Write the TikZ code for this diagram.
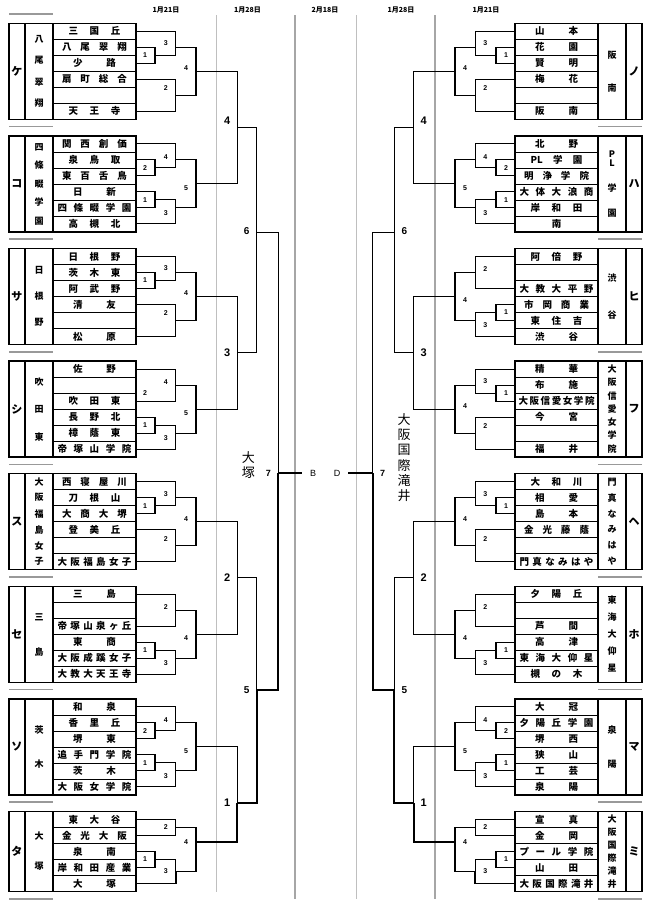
\documentclass[tikz,border=0pt]{standalone}
\usepackage{fontspec}
\setmainfont{Noto Sans CJK JP}
\newfontfamily\lat{Liberation Sans}
\usetikzlibrary{calc}

\ExplSyntaxOn
\tl_new:N \l_spr_tl
\seq_new:N \l_spr_seq
\NewDocumentCommand \spr { m }
 {
  \tl_set:No \l_spr_tl {#1}
  \seq_clear:N \l_spr_seq
  \tl_map_inline:Nn \l_spr_tl { \seq_put_right:Nn \l_spr_seq {##1} }
  \int_case:nnF { \seq_count:N \l_spr_seq }
   {
    {2} { \makebox[43pt][s]{ \seq_use:Nn \l_spr_seq { \hfil } } }
    {3} { \makebox[52pt][s]{ \seq_use:Nn \l_spr_seq { \hfil } } }
    {4} { \makebox[65pt][s]{ \seq_use:Nn \l_spr_seq { \hfil } } }
    {5} { \makebox[74pt][s]{ \seq_use:Nn \l_spr_seq { \hfil } } }
    {6} { \makebox[74pt][s]{ \seq_use:Nn \l_spr_seq { \hfil } } }
    {7} { \makebox[76pt][s]{ \seq_use:Nn \l_spr_seq { \hfil } } }
   }
   { \seq_use:Nn \l_spr_seq { } }
 }
\ExplSyntaxOff

\newcommand\R[1]{\bt+16*(#1-0.5)}
% match: A, B, column x, output y, name, label, label dy, winner, label style
\newcommand\mt[9]{%
  \coordinate (#5) at (#3,{#4});
  \draw[sa#8] (#1) -- (#1 -| #5) -- (#5);
  \draw[sb#8] (#2) -- (#2 -| #5) -- (#5);
  \node[#9] at ($(#5)+(-10,#7)$) {#6};
}
% block: prefix, k, rows, letter, region chars, region step, names
\newcommand\blk[7]{%
  \pgfmathsetmacro\bt{23.3+112.6*#2}%
  \pgfmathsetmacro\bc{\bt+8*#3}%
  \pgfmathsetmacro\bb{\bt+16*#3}%
  \foreach \nm [count=\i] in {#7}{\node[namecell] (#1#2r\i) at (94.5,{\bt+16*(\i-0.5)}) {\spr{\nm}};}
  \draw[outer] (9,\bt) rectangle (136,\bb);
  \draw[outer] (25,\bt) -- (25,\bb) (53,\bt) -- (53,\bb);
  \node[letter] (#1#2let) at (17,\bc) {#4};
  \foreach \ch [count=\j] in {#5}{\xdef\nreg{\j}}
  \foreach \ch [count=\j] in {#5}{\node[regch] at (39,{\bc+#6*(\j-(\nreg+1)/2)}) {\ch};}
}
\newcommand\tA[6]{%
  \pgfmathsetmacro\bt{23.3+112.6*#2}%
  \mt{#1#2r2.\sd}{#1#2r3.\sd}{155}{\R{2.5}}{#1#2m1}{1}{0}{#3}{lbl}%
  \mt{#1#2r1.\sd}{#1#2m1}{175.7}{\R{2}}{#1#2m2}{3}{-4}{#4}{lbl}%
  \mt{#1#2r4.\sd}{#1#2r6.\sd}{175.7}{\R{5}}{#1#2m3}{2}{-7}{#5}{lbl}%
  \mt{#1#2m2}{#1#2m3}{196}{\R{3.5}}{#1#2out}{4}{-3}{#6}{lbl}%
}
\newcommand\tB[7]{%
  \pgfmathsetmacro\bt{23.3+112.6*#2}%
  \mt{#1#2r2.\sd}{#1#2r3.\sd}{155}{\R{2.5}}{#1#2m1}{2}{0}{#3}{lbl}%
  \mt{#1#2r1.\sd}{#1#2m1}{175.7}{\R{2}}{#1#2m2}{4}{-3}{#4}{lbl}%
  \mt{#1#2r4.\sd}{#1#2r5.\sd}{155}{\R{4.5}}{#1#2m3}{1}{0}{#5}{lbl}%
  \mt{#1#2m3}{#1#2r6.\sd}{175.7}{\R{5}}{#1#2m4}{3}{5}{#6}{lbl}%
  \mt{#1#2m2}{#1#2m4}{196}{\R{3.5}}{#1#2out}{5}{4}{#7}{lbl}%
}
\newcommand\tC[8]{%
  \pgfmathsetmacro\bt{23.3+112.6*#2}%
  \mt{#1#2r1.\sd}{#1#2r3.\sd}{175.7}{\R{2}}{#1#2m1}{#3}{-3}{#5}{lbl}%
  \mt{#1#2r4.\sd}{#1#2r5.\sd}{155}{\R{4.5}}{#1#2m2}{1}{0}{#6}{lbl}%
  \mt{#1#2m2}{#1#2r6.\sd}{175.7}{\R{5}}{#1#2m3}{3}{5}{#7}{lbl}%
  \mt{#1#2m1}{#1#2m3}{196}{\R{3.5}}{#1#2out}{#4}{4}{#8}{lbl}%
}
\newcommand\tD[6]{%
  \pgfmathsetmacro\bt{23.3+112.6*#2}%
  \mt{#1#2r1.\sd}{#1#2r2.\sd}{175.7}{\R{1.5}}{#1#2m1}{2}{0}{#3}{lbl}%
  \mt{#1#2r3.\sd}{#1#2r4.\sd}{155}{\R{3.5}}{#1#2m2}{1}{0}{#4}{lbl}%
  \mt{#1#2m2}{#1#2r5.\sd}{175.7}{\R{4.25}}{#1#2m3}{3}{0}{#5}{lbl}%
  \mt{#1#2m1}{#1#2m3}{196}{841.7}{#1#2out}{4}{0}{#6}{lbl}%
}
\newcommand\rtwo[8]{%
  \mt{#10out}{#11out}{237.3}{127.7}{#1s4}{4}{-7}{#2}{lblb}%
  \mt{#12out}{#13out}{237.3}{352.7}{#1s3}{3}{0}{#3}{lblb}%
  \mt{#14out}{#15out}{237.3}{577.7}{#1s2}{2}{0}{#4}{lblb}%
  \mt{#16out}{#17out}{237.3}{802.7}{#1s1}{1}{0}{#5}{lblb}%
  \mt{#1s4}{#1s3}{256.7}{232.5}{#1t6}{6}{-1}{#6}{lblc}%
  \mt{#1s2}{#1s1}{256.7}{690}{#1t5}{5}{0}{#7}{lblc}%
  \mt{#1t6}{#1t5}{278.3}{473}{#1fin}{7}{0}{#8}{lbld}%
}

\begin{document}
\begin{tikzpicture}[x=1pt,y=-1pt,
  namecell/.style={draw=black, line width=0.8pt, minimum width=83pt, minimum height=16pt, inner sep=0pt, font=\fontsize{9.5}{9.5}\selectfont\bfseries},
  outer/.style={draw=black, line width=1.3pt},
  letter/.style={font=\fontsize{11}{11}\selectfont\bfseries, inner sep=0pt},
  regch/.style={font=\fontsize{9}{9}\selectfont\bfseries, inner sep=0pt},
  br/.style={line width=1.1pt, line join=miter},
  brw/.style={line width=1.9pt, line join=miter},
  saa/.style={brw}, sab/.style={br}, san/.style={br},
  sba/.style={br}, sbb/.style={brw}, sbn/.style={br},
  lbl/.style={font=\lat\bfseries\fontsize{7}{7}\selectfont, inner sep=0pt},
  lblb/.style={font=\lat\bfseries\fontsize{11}{11}\selectfont, inner sep=0pt},
  lblc/.style={font=\lat\bfseries\fontsize{10}{10}\selectfont, inner sep=0pt},
  lbld/.style={font=\lat\bfseries\fontsize{9}{9}\selectfont, inner sep=0pt},
  hdr/.style={font=\bfseries\fontsize{7}{7}\selectfont, inner sep=0pt},
  bd/.style={font=\lat\fontsize{9}{9}\selectfont, inner xsep=8pt, inner ysep=0pt},
  big/.style={font=\fontsize{13}{13}\selectfont, inner sep=0pt},
  sep/.style={line width=1.5pt, draw=gray!80},
  glight/.style={line width=0.8pt, draw=gray!50},
  gdark/.style={line width=1.4pt, draw=gray!70}
]
\fill[white] (0,0) rectangle (650,906);
\useasboundingbox (0,0) rectangle (650,906);

% date zone lines
\draw[glight] (216.7,15) -- (216.7,892);
\draw[gdark] (295,15) -- (295,899);
\draw[glight] (356.7,15) -- (356.7,899);
\draw[gdark] (435,15) -- (435,899);

% headers
\node[hdr] (h1) at (166,9.5) {1月21日};
\node[hdr] (h2) at (247.5,9.5) {1月28日};
\node[hdr] (h3) at (325,9.5) {2月18日};
\node[hdr] (h4) at (401,9.5) {1月28日};
\node[hdr] (h5) at (486,9.5) {1月21日};

% ---------------- left side
\begin{scope}
\def\sd{east}
\foreach \k in {0,...,7}{\draw[sep] (9,{23.3+112.6*\k-9.3}) -- (53,{23.3+112.6*\k-9.3});}
\draw[sep] (9,899) -- (53,899);
\blk{L}{0}{6}{ケ}{八,尾,翠,翔}{21.3}{三国丘,八尾翠翔,少路,扇町総合,{},天王寺}
\tA{L}{0}{n}{n}{n}{n}
\blk{L}{1}{6}{コ}{四,條,畷,学,園}{18.5}{関西創価,泉鳥取,東百舌鳥,日新,四條畷学園,高槻北}
\tB{L}{1}{n}{n}{n}{n}{n}
\blk{L}{2}{6}{サ}{日,根,野}{26}{日根野,茨木東,阿武野,清友,{},松原}
\tA{L}{2}{n}{n}{n}{n}
\blk{L}{3}{6}{シ}{吹,田,東}{27.5}{佐野,{},吹田東,長野北,樟蔭東,帝塚山学院}
\tC{L}{3}{4}{5}{n}{n}{n}{n}
\node[lbl] (L3x) at (145,{\R{2.5}}) {2};
\blk{L}{4}{6}{ス}{大,阪,福,島,女,子}{16}{西寝屋川,刀根山,大商大堺,登美丘,{},大阪福島女子}
\tA{L}{4}{n}{n}{n}{n}
\blk{L}{5}{6}{セ}{三,島}{35}{三島,{},帝塚山泉ヶ丘,東商,大阪成蹊女子,大教大天王寺}
\tC{L}{5}{2}{4}{n}{n}{n}{n}
\blk{L}{6}{6}{ソ}{茨,木}{34}{和泉,香里丘,堺東,追手門学院,茨木,大阪女学院}
\tB{L}{6}{n}{n}{n}{n}{n}
\blk{L}{7}{5}{タ}{大,塚}{30}{東大谷,金光大阪,泉南,岸和田産業,大塚}
\tD{L}{7}{n}{n}{b}{b}
\rtwo{L}{n}{n}{n}{b}{n}{b}{b}
\end{scope}

% ---------------- right side (mirrored)
\begin{scope}[xshift=651pt, xscale=-1]
\def\sd{west}
\foreach \k in {1,...,7}{\draw[sep] (9,{23.3+112.6*\k-9.3}) -- (53,{23.3+112.6*\k-9.3});}
\draw[sep] (9,899) -- (53,899);
\blk{R}{0}{6}{ノ}{阪,南}{33}{山本,花園,賢明,梅花,{},阪南}
\tA{R}{0}{n}{n}{n}{n}
\blk{R}{1}{6}{ハ}{}{0}{北野,{{PL}学園},明浄学院,大体大浪商,岸和田,南}
\node[regch] at (39,154) {P};
\node[regch] at (39,163) {L};
\node[regch] at (39,188) {学};
\node[regch] at (39,213.3) {園};
\tB{R}{1}{n}{n}{n}{n}{n}
\blk{R}{2}{6}{ヒ}{渋,谷}{37}{阿倍野,{},大教大平野,市岡商業,東住吉,渋谷}
\tC{R}{2}{2}{4}{n}{n}{n}{n}
\blk{R}{3}{6}{フ}{大,阪,信,愛,女,学,院}{13.2}{精華,布施,大阪信愛女学院,今宮,{},福井}
\tA{R}{3}{n}{n}{n}{n}
\blk{R}{4}{6}{ヘ}{門,真,な,み,は,や}{15.7}{大和川,相愛,島本,金光藤蔭,{},門真なみはや}
\tA{R}{4}{n}{n}{n}{n}
\blk{R}{5}{6}{ホ}{東,海,大,仰,星}{16.9}{夕陽丘,{},芦間,高津,東海大仰星,槻の木}
\tC{R}{5}{2}{4}{n}{n}{n}{n}
\blk{R}{6}{6}{マ}{泉,陽}{34}{大冠,夕陽丘学園,堺西,狭山,工芸,泉陽}
\tB{R}{6}{n}{n}{n}{n}{n}
\blk{R}{7}{5}{ミ}{大,阪,国,際,滝,井}{13}{宣真,金岡,プール学院,山田,大阪国際滝井}
\tD{R}{7}{n}{n}{b}{b}
\rtwo{R}{n}{n}{n}{b}{n}{b}{b}
\end{scope}

% final
\node[bd] (B) at (313,473) {B};
\node[bd] (D) at (337,473) {D};
\draw[br] (Lfin) -- (B);
\draw[br] (Rfin) -- (D);

\node[big] (w1) at (248.3,457.5) {大};
\node[big] (w2) at (248.3,472.7) {塚};
\foreach \c [count=\i] in {大,阪,国,際,滝,井}{\node[big] (e\i) at (404,{420+15.1*(\i-1)}) {\c};}
\end{tikzpicture}
\end{document}
